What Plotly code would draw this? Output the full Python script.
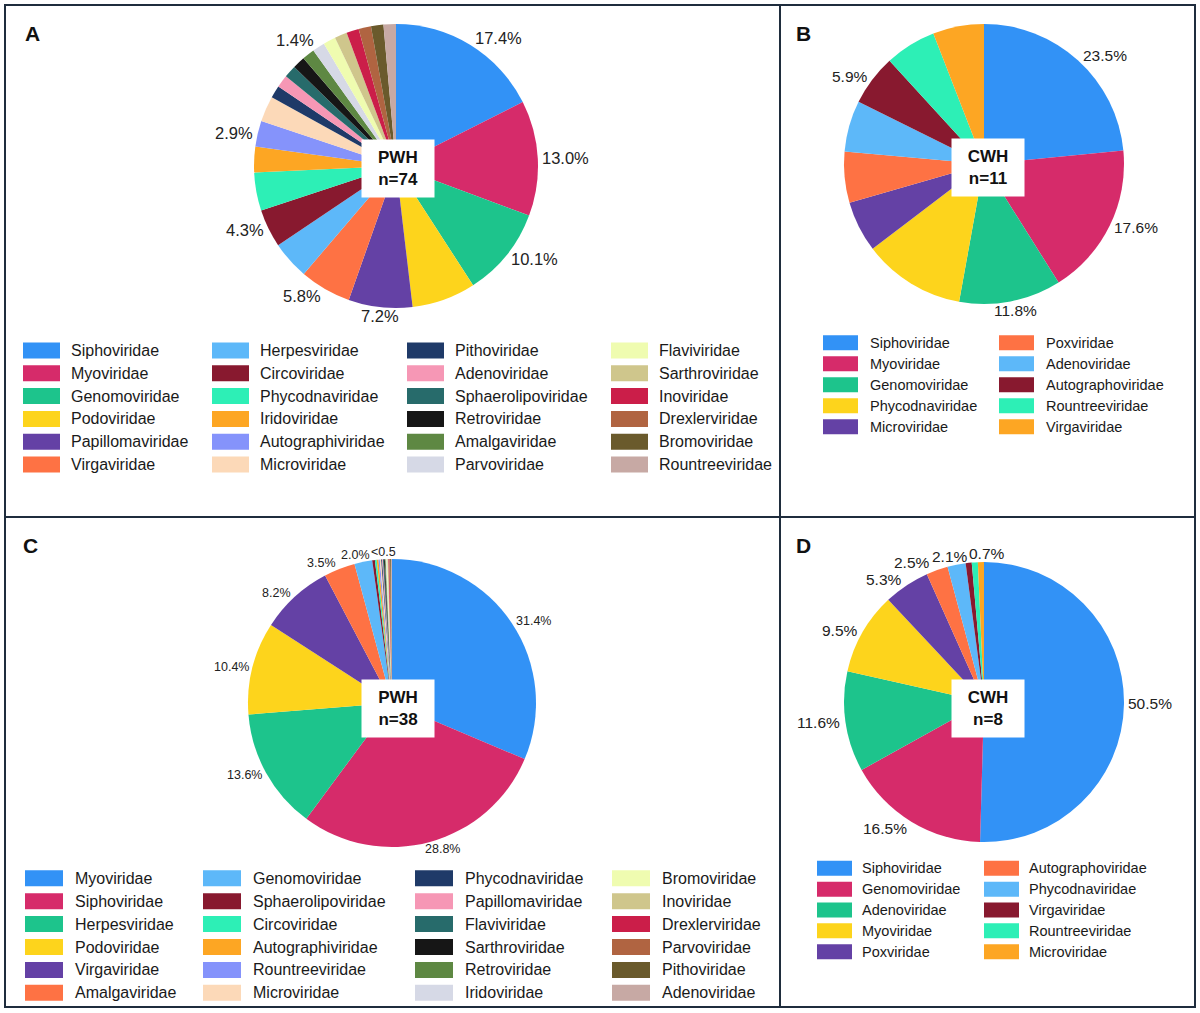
import math
import plotly.graph_objects as go

W, H = 1200, 1013
FONT = "Liberation Sans, Arial, sans-serif"

palette = ["#3292F6", "#D62B6A", "#1DC48C", "#FDD41C", "#6441A5", "#FE7244",
           "#5DB8F9", "#88192F", "#2DEFB6", "#FDA623", "#8593FB", "#FCD9B8",
           "#1F3A68", "#F697B5", "#276B6B", "#161616", "#5E8843", "#D6D9E6",
           "#EFFCB0", "#CFC68C", "#CB1E49", "#B06441", "#6A5A2C", "#C7A9A4"]

# ---- Panel A (PWH, n=74) ----
labels_A = ["Siphoviridae", "Myoviridae", "Genomoviridae", "Podoviridae", "Papillomaviridae", "Virgaviridae",
            "Herpesviridae", "Circoviridae", "Phycodnaviridae", "Iridoviridae", "Autographiviridae", "Microviridae",
            "Pithoviridae", "Adenoviridae", "Sphaerolipoviridae", "Retroviridae", "Amalgaviridae", "Parvoviridae",
            "Flaviviridae", "Sarthroviridae", "Inoviridae", "Drexlerviridae", "Bromoviridae", "Rountreeviridae"]
values_A = [17.4, 13.0, 10.1, 7.2, 7.2, 5.8, 4.3, 4.3, 4.3, 2.9, 2.9, 2.9,
            1.4, 1.4, 1.4, 1.4, 1.4, 1.4, 1.4, 1.4, 1.4, 1.4, 1.4, 1.4]
text_A = ["17.4%", "13.0%", "10.1%", "", "7.2%", "5.8%", "", "4.3%", "", "", "2.9%", "",
          "", "", "", "", "", "1.4%", "", "", "", "", "", ""]

# ---- Panel B (CWH, n=11) ----
labels_B = ["Siphoviridae", "Myoviridae", "Genomoviridae", "Phycodnaviridae", "Microviridae",
            "Poxviridae", "Adenoviridae", "Autographoviridae", "Rountreeviridae", "Virgaviridae"]
values_B = [23.5, 17.6, 11.8, 11.8, 5.9, 5.9, 5.9, 5.9, 5.9, 5.9]
text_B = ["23.5%", "17.6%", "11.8%", "", "", "", "", "5.9%", "", ""]

# ---- Panel C (PWH, n=38) ----
labels_C = ["Myoviridae", "Siphoviridae", "Herpesviridae", "Podoviridae", "Virgaviridae", "Amalgaviridae",
            "Genomoviridae", "Sphaerolipoviridae", "Circoviridae", "Autographiviridae", "Rountreeviridae", "Microviridae",
            "Phycodnaviridae", "Papillomaviridae", "Flaviviridae", "Sarthroviridae", "Retroviridae", "Iridoviridae",
            "Bromoviridae", "Inoviridae", "Drexlerviridae", "Parvoviridae", "Pithoviridae", "Adenoviridae"]
values_C = [31.4, 28.8, 13.6, 10.4, 8.2, 3.5, 2.0, 0.3, 0.2, 0.2, 0.15, 0.15,
            0.1, 0.1, 0.1, 0.1, 0.1, 0.1, 0.1, 0.1, 0.1, 0.1, 0.1, 0.1]
text_C = ["31.4%", "28.8%", "13.6%", "10.4%", "8.2%", "3.5%", "2.0%", "", "", "", "", "<0.5",
          "", "", "", "", "", "", "", "", "", "", "", ""]

# ---- Panel D (CWH, n=8) ----
labels_D = ["Siphoviridae", "Genomoviridae", "Adenoviridae", "Myoviridae", "Poxviridae",
            "Autographoviridae", "Phycodnaviridae", "Virgaviridae", "Rountreeviridae", "Microviridae"]
values_D = [50.5, 16.5, 11.6, 9.5, 5.3, 2.5, 2.1, 0.7, 0.7, 0.7]
text_D = ["50.5%", "16.5%", "11.6%", "9.5%", "5.3%", "2.5%", "2.1%", "", "", "0.7%"]


def px(x):
    return x / W


def py(y):
    return 1 - y / H


CHAR_W = {".": 0.278, "%": 0.889, "<": 0.584}


def text_width(s, fs):
    return fs * sum(CHAR_W.get(ch, 0.556) for ch in s)


fig = go.Figure()

panels = [
    dict(labels=labels_A, values=values_A, text=text_A, cx=396, cy=166, r=142, fs=16.5,
         box=(398, 168, "PWH", "n=74"), letter=("A", 32, 33),
         leg=dict(cols=[23, 212, 407, 611], rows=6, y0=350.5, dy=22.8, sw=37, sh=16, tx=46, fs=16)),
    dict(labels=labels_B, values=values_B, text=text_B, cx=984, cy=164, r=140, fs=15.5,
         box=(988, 167, "CWH", "n=11"), letter=("B", 803, 33),
         leg=dict(cols=[823, 999], rows=5, y0=342.7, dy=21, sw=35, sh=15, tx=45, fs=14.5)),
    dict(labels=labels_C, values=values_C, text=text_C, cx=392, cy=703, r=144, fs=12.5,
         box=(398, 708, "PWH", "n=38"), letter=("C", 30, 545),
         leg=dict(cols=[25, 203, 415, 612], rows=6, y0=878.3, dy=22.9, sw=38, sh=16, tx=47.5, fs=16)),
    dict(labels=labels_D, values=values_D, text=text_D, cx=984, cy=702, r=140, fs=15.5,
         box=(988, 708, "CWH", "n=8"), letter=("D", 803, 545),
         leg=dict(cols=[817, 984], rows=5, y0=868.3, dy=20.85, sw=35, sh=15, tx=43, fs=14.5)),
]

shapes = []
annotations = []

for p in panels:
    n = len(p["labels"])
    cols = palette[:n]
    fig.add_trace(go.Pie(
        labels=p["labels"], values=p["values"],
        textinfo="none", sort=False, direction="clockwise",
        rotation=0, showlegend=False, hoverinfo="label+percent",
        marker=dict(colors=cols, line=dict(width=0)),
        domain=dict(x=[px(p["cx"] - p["r"]), px(p["cx"] + p["r"])],
                    y=[py(p["cy"] + p["r"]), py(p["cy"] - p["r"])]),
    ))
    # outside percentage labels, placed at each slice's mid-angle
    total = sum(p["values"])
    cum = 0.0
    boxes = []
    for v, t in zip(p["values"], p["text"]):
        theta = 2 * math.pi * (cum + v / 2) / total
        cum += v
        if not t:
            continue
        s, c = math.sin(theta), math.cos(theta)
        mx, my = p["r"] * s, -p["r"] * c
        w = text_width(t, p["fs"])
        h = 1.15 * p["fs"]
        f = min(1.0, max(0.0, (abs(s) - 0.15) / 0.2))
        sx = math.copysign(1, mx) * f * (w / 2 + h / 4)
        dyv = math.copysign(h / 2, my)
        sy = dyv / (1 + (mx * mx) / (my * my)) if abs(my) > 1e-6 else 0.0
        boxes.append([p["cx"] + mx + sx, p["cy"] + my + sy, w, h, t])
    # simple horizontal de-overlap of neighbouring labels
    for _ in range(30):
        moved = False
        boxes.sort(key=lambda b: b[0])
        for a, b in zip(boxes, boxes[1:]):
            if abs(a[1] - b[1]) < (a[3] + b[3]) / 2 - 2:
                ov = (a[0] + a[2] / 2 + 2) - (b[0] - b[2] / 2)
                if ov > 0:
                    a[0] -= ov / 2
                    b[0] += ov / 2
                    moved = True
        if not moved:
            break
    for bxx, byy, w, h, t in boxes:
        annotations.append(dict(
            x=px(bxx), y=py(byy), xref="paper", yref="paper",
            showarrow=False, text=t, xanchor="center", yanchor="middle", borderpad=0,
            font=dict(family=FONT, size=p["fs"], color="#222222")))
    bx, by, t1, t2 = p["box"]
    annotations.append(dict(
        x=px(bx), y=py(by), xref="paper", yref="paper", showarrow=False,
        xanchor="center", yanchor="middle",
        text=f"<b>{t1}</b><br><b>{t2}</b>", bgcolor="white", width=70, height=55,
        font=dict(family=FONT, size=17, color="#111111"), align="center"))
    L, lx, ly = p["letter"]
    annotations.append(dict(
        x=px(lx), y=py(ly), xref="paper", yref="paper", showarrow=False,
        text=f"<b>{L}</b>", font=dict(family=FONT, size=21, color="#111111"),
        xanchor="center", yanchor="middle"))
    lg = p["leg"]
    for i, lab in enumerate(p["labels"]):
        c, rI = divmod(i, lg["rows"])
        x0 = lg["cols"][c]
        yc = lg["y0"] + rI * lg["dy"]
        shapes.append(dict(type="rect", xref="paper", yref="paper",
                           x0=px(x0), x1=px(x0 + lg["sw"]),
                           y0=py(yc + lg["sh"] / 2), y1=py(yc - lg["sh"] / 2),
                           fillcolor=cols[i], line=dict(width=0)))
        annotations.append(dict(
            x=px(x0 + lg["tx"]), y=py(yc), xref="paper", yref="paper", showarrow=False,
            text=lab, xanchor="left", yanchor="middle",
            font=dict(family=FONT, size=lg["fs"], color="#1a1a1a")))

BORDER = "#1f2d3d"
shapes.append(dict(type="rect", xref="paper", yref="paper",
                   x0=px(5), x1=px(1195), y0=py(1007), y1=py(5),
                   line=dict(color=BORDER, width=2)))
shapes.append(dict(type="line", xref="paper", yref="paper",
                   x0=px(780), x1=px(780), y0=py(1007), y1=py(5),
                   line=dict(color=BORDER, width=2)))
shapes.append(dict(type="line", xref="paper", yref="paper",
                   x0=px(5), x1=px(1195), y0=py(517), y1=py(517),
                   line=dict(color=BORDER, width=2)))

fig.update_layout(
    width=W, height=H, margin=dict(l=0, r=0, t=0, b=0),
    paper_bgcolor="white", plot_bgcolor="white",
    font=dict(family=FONT),
    shapes=shapes, annotations=annotations,
)

fig.write_html("out.html", config={"displayModeBar": False},
               post_script="document.body.style.margin='0px';")
